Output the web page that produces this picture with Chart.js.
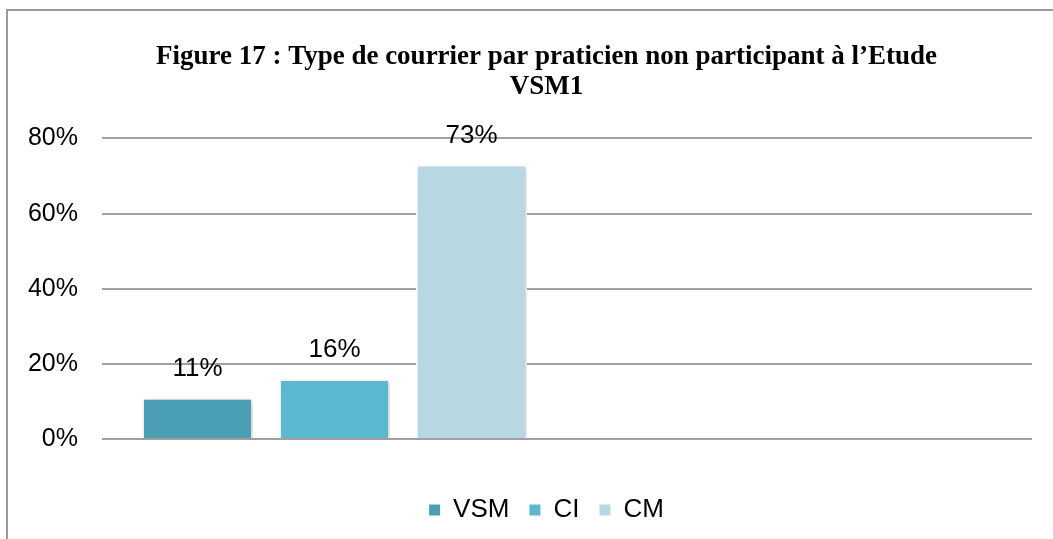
<!DOCTYPE html>
<html>
<head>
<meta charset="utf-8">
<script src="https://cdn.jsdelivr.net/npm/chart.js@4"></script>
<style>
  html, body { margin: 0; padding: 0; background: #fff; overflow: hidden; }
  #wrap { position: relative; width: 1053px; height: 539px; overflow: hidden; }
</style>
</head>
<body>
<div id="wrap"><canvas id="chart" width="1085" height="539"></canvas></div>
<script>
// one category, second one left empty (as in the original chart)
const categories = ['Type de courrier', ''];
const seriesNames = ['VSM', 'CI', 'CM'];
const vsmValues = [11, null];
const ciValues = [16, null];
const cmValues = [73, null];
const yTicks = [0, 20, 40, 60, 80];
const colors = ['#4a9fb5', '#5bb8d1', '#b7d7e3'];

const sansFont = '"Liberation Sans", Arial, sans-serif';

// frame around the whole figure (right edge is cropped off in the original)
const framePlugin = {
    id: 'frame',
    beforeDraw(chart) {
        const ctx = chart.ctx;
        ctx.save();
        ctx.strokeStyle = '#9a9a9a';
        ctx.lineWidth = 2;
        ctx.beginPath();
        ctx.moveTo(7, chart.height);
        ctx.lineTo(7, 10);
        ctx.lineTo(chart.width, 10);
        ctx.stroke();
        ctx.restore();
    }
};

// soft shadow under the bars
const shadowPlugin = {
    id: 'barShadow',
    beforeDatasetsDraw(chart) {
        const ctx = chart.ctx;
        ctx.save();
        ctx.shadowColor = 'rgba(0,0,0,0.25)';
        ctx.shadowBlur = 4;
        ctx.shadowOffsetX = 1;
        ctx.shadowOffsetY = 1;
    },
    afterDatasetsDraw(chart) {
        chart.ctx.restore();
    }
};

// value labels above each bar
const labelPlugin = {
    id: 'valueLabels',
    afterDraw(chart) {
        const ctx = chart.ctx;
        ctx.save();
        ctx.font = '26px ' + sansFont;
        ctx.fillStyle = '#000';
        ctx.textAlign = 'center';
        ctx.textBaseline = 'middle';
        chart.data.datasets.forEach((ds, i) => {
            chart.getDatasetMeta(i).data.forEach((bar, j) => {
                const v = ds.data[j];
                if (v == null) return;
                ctx.fillText(v + '%', bar.x, bar.y - 29);
            });
        });
        ctx.restore();
    }
};

let ctx = document.getElementById('chart').getContext('2d');
new Chart(ctx, {
    type: 'bar',
    data: {
        labels: categories,
        datasets: [
            { label: seriesNames[0], data: vsmValues, backgroundColor: colors[0] },
            { label: seriesNames[1], data: ciValues, backgroundColor: colors[1] },
            { label: seriesNames[2], data: cmValues, backgroundColor: colors[2] }
        ]
    },
    options: {
        responsive: false,
        animation: false,
        devicePixelRatio: 1,
        layout: { padding: { left: 8, right: 0, top: 27, bottom: 6 } },
        datasets: {
            bar: {
                categoryPercentage: 0.884,
                barPercentage: 0.81,
                borderColor: '#ffffff',
                borderWidth: 2,
                grouped: true
            }
        },
        scales: {
            x: {
                ticks: { display: false },
                grid: { display: false },
                border: { display: false },
                afterFit(scale) {
                    scale.height = 38;
                }
            },
            y: {
                min: 0,
                max: 80,
                afterBuildTicks(scale) {
                    scale.ticks = yTicks.map(v => ({ value: v }));
                },
                afterFit(scale) {
                    scale.width = 94;
                },
                ticks: {
                    padding: 24,
                    color: '#000',
                    font: { family: sansFont, size: 25 },
                    callback: v => v + '%'
                },
                grid: { color: '#a0a0a0', lineWidth: 2, drawTicks: false },
                border: { display: false }
            },
            // empty right margin of the plot
            yRight: {
                position: 'right',
                min: 0,
                max: 80,
                ticks: { display: false },
                grid: { display: false },
                border: { display: false },
                afterFit(scale) {
                    scale.width = 53;
                }
            }
        },
        plugins: {
            title: {
                display: true,
                text: ['Figure 17 : Type de courrier par praticien non participant à l\u2019Etude', 'VSM1'],
                color: '#000',
                font: { family: '"Liberation Serif", "Times New Roman", serif', size: 27, weight: 'bold', lineHeight: 1.12 },
                padding: { top: 15, bottom: 36 }
            },
            legend: {
                position: 'bottom',
                labels: {
                    boxWidth: 11,
                    boxHeight: 11,
                    padding: 20,
                    color: '#000',
                    font: { family: sansFont, size: 26 },
                    generateLabels(chart) {
                        const items = Chart.defaults.plugins.legend.labels.generateLabels(chart);
                        items.forEach(it => {
                            it.lineWidth = 0;
                            it.strokeStyle = it.fillStyle;
                        });
                        return items;
                    }
                }
            },
            tooltip: { enabled: false }
        }
    },
    plugins: [framePlugin, shadowPlugin, labelPlugin]
});
</script>
</body>
</html>
